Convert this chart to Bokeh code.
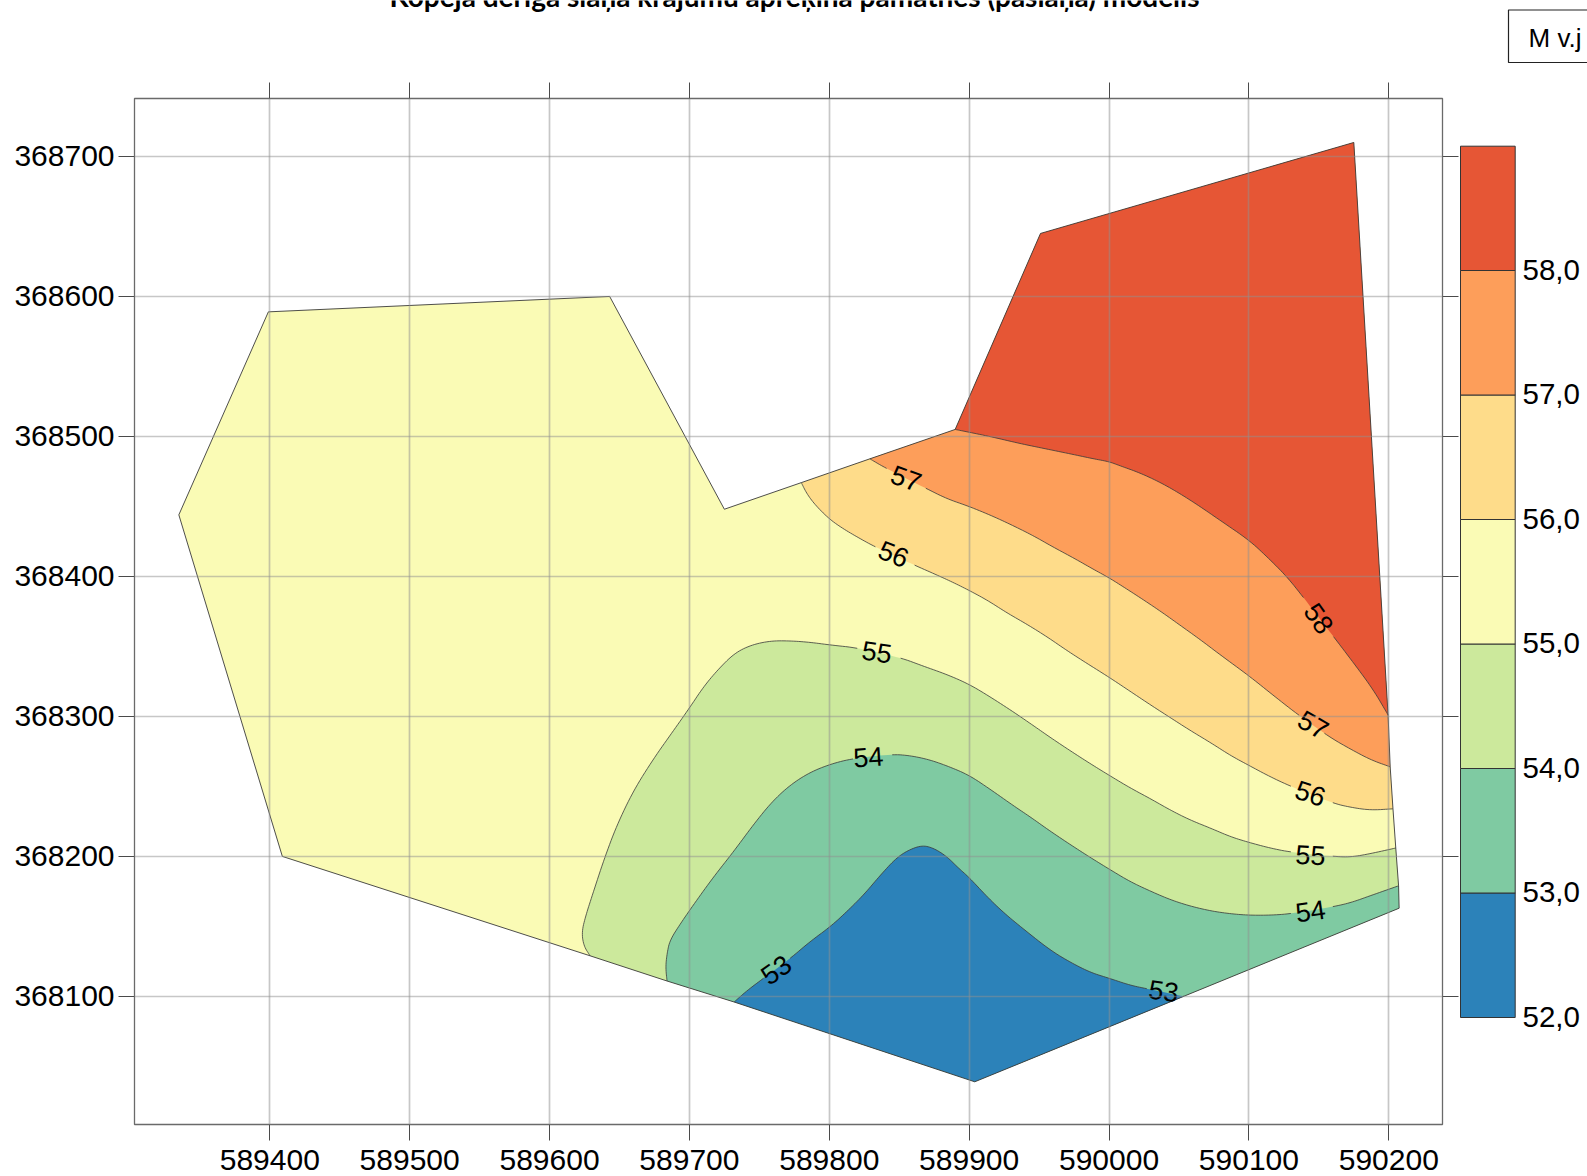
from bokeh.embed import file_html
from bokeh.resources import INLINE
from bokeh.plotting import figure
from bokeh.layouts import row, column
from bokeh.models import LinearAxis, FixedTicker, Range1d
from bokeh.core.properties import value
import numpy as np

x_ticks = [589400, 589500, 589600, 589700, 589800, 589900, 590000, 590100, 590200]
y_ticks = [368100, 368200, 368300, 368400, 368500, 368600, 368700]
title_text = "Kopējā derīgā slāņa krājumu aprēķina pamatnes (pasiāņa) modelis"
unit_text = "M v.j"

# outline vertices (x, y)
west_x = [589629, 589409, 589335, 589399, 589643, 589725, 589780]
west_y = [368129, 368200, 368444, 368589, 368600, 368448, 368467]
east_edge_x = [590199.5, 590175, 589951, 589890]
east_edge_y = [368301, 368710, 368645, 368505]
p57_x, p57_y = 589829, 368484
side_x = [590205, 590207, 590207.4]
side_y = [368206, 368179, 368163]
side56_x, side56_y = 590203, 368234
side57_x, side57_y = 590201, 368264
south_x = [589904, 589732, 589684]
south_y = [368039, 368096, 368111]

c55_x = [589629, 589624.5, 589623, 589626, 589630.5, 589639, 589648, 589660, 589674.5, 589688, 589700, 589710, 589720, 589732, 589744, 589758, 589772, 589786, 589801, 589820, 589851, 589867, 589884, 589900, 589915, 589932, 589948, 589958, 589973, 589987, 590000, 590015, 590030, 590044, 590058, 590073, 590087, 590100, 590115, 590130, 590160, 590173, 590187, 590205]
c55_y = [368129, 368136, 368146, 368158, 368172, 368198, 368222, 368247, 368270, 368289, 368306, 368321, 368333, 368345, 368351, 368354, 368354, 368353, 368351, 368349, 368342, 368336, 368330, 368323, 368314, 368303, 368292, 368285, 368275, 368266, 368258, 368249, 368241, 368233, 368226, 368220, 368214, 368210, 368206, 368203, 368200, 368199.5, 368202, 368206]
c54_x = [589684, 589683, 589684, 589686, 589693.6, 589704, 589717, 589732, 589746, 589759, 589772, 589786, 589801, 589817, 589845, 589858, 589872, 589886, 589900, 589915, 589932, 589944, 589958, 589973, 589987, 590000, 590015, 590030, 590044, 590058, 590073, 590087, 590100, 590115, 590130, 590160, 590173, 590187, 590207]
c54_y = [368111, 368121, 368130.5, 368140, 368152, 368167, 368185, 368204, 368223, 368239, 368251, 368260, 368266, 368270, 368273, 368272, 368269, 368264, 368258, 368248, 368236, 368228, 368218, 368208, 368199, 368191, 368182, 368175, 368169, 368164.5, 368161, 368159, 368158, 368158, 368159, 368164, 368167, 368172, 368179]
c53_x = [589732, 589741, 589753, 589772, 589786, 589801, 589813, 589825, 589836, 589847, 589855.5, 589866, 589874.5, 589884, 589892, 589900, 589913, 589925, 589939, 589958, 589973, 589987, 590000, 590015, 590027, 590053.6]
c53_y = [368096, 368104, 368113, 368127, 368139, 368150, 368161, 368173, 368186, 368198, 368204, 368208, 368206, 368200, 368192, 368185, 368171, 368159.5, 368148, 368133, 368124, 368117, 368113, 368108, 368105.5, 368100]
c56_x = [589780, 589784, 589790, 589800, 589810, 589822, 589833, 589861, 589877, 589889, 589900, 589913, 589927, 589941, 589955.5, 589970, 589984, 590000, 590015, 590030, 590044, 590058, 590073, 590087, 590100, 590115, 590130, 590160, 590173, 590187, 590203]
c56_y = [368467, 368459, 368451, 368441, 368434, 368427, 368421, 368408, 368401, 368395.5, 368390, 368383, 368374, 368366, 368357, 368347, 368338, 368328, 368318, 368308, 368299, 368290, 368281, 368272, 368265, 368257, 368250, 368238, 368235, 368233, 368234]
c57_x = [589829, 589841, 589869, 589884, 589900, 589917, 589932, 589946, 589960, 589975, 589989, 590000, 590008, 590022, 590037, 590051, 590065, 590079.5, 590100, 590115, 590134, 590158, 590172, 590187, 590201]
c57_y = [368484, 368477, 368463, 368455.5, 368450, 368443, 368436, 368429, 368421, 368413, 368405, 368399, 368394, 368385, 368375, 368365, 368355, 368344, 368329, 368317, 368302, 368285, 368277, 368269, 368264]
c58_x = [589890, 589900, 589917, 589936, 589955.5, 589975, 589989, 590000, 590008, 590022, 590037, 590051, 590065, 590079.5, 590100, 590113, 590127, 590139, 590160.5, 590175, 590189, 590199.5]
c58_y = [368505, 368503, 368499.5, 368495, 368491, 368487, 368484, 368482, 368479, 368474, 368467, 368459, 368450, 368440, 368426, 368414, 368400, 368385, 368357, 368338, 368319, 368301]

label_text = ["57", "56", "55", "54", "53", "53", "58", "57", "56", "55", "54"]
label_x = [589855, 589846, 589834, 589828, 589762, 590039, 590150, 590146, 590144, 590144, 590144]
label_y = [368470, 368416, 368346, 368271, 368119, 368104, 368370, 368294, 368245, 368201, 368161]
label_deg = [-20, -22, -8, 4, 35, -8, -55, -30, -18, -3, 8]

levels = [52, 53, 54, 55, 56, 57, 58, 59]
level_labels = ["52,0", "53,0", "54,0", "55,0", "56,0", "57,0", "58,0"]
band_colors = ["#2C82B9", "#7FCAA2", "#CCE99C", "#FAFBB5", "#FEDC8A", "#FD9E5A", "#E65635"]

X0, X1 = 589303.3, 590238.4
Y0, Y1 = 368008.5, 368741.4
LINE = "#3a3a3a"
HEAD = 64  # height of the strip with the title and the unit box


def rounded(xs, ys, passes=3):
    """Draw a read contour as a smooth curve: corner cutting, end points kept."""
    a = np.column_stack([xs, ys]).astype(float)
    for _ in range(passes):
        q1 = 0.75 * a[:-1] + 0.25 * a[1:]
        q2 = 0.25 * a[:-1] + 0.75 * a[1:]
        mid = np.empty((2 * len(q1), 2))
        mid[0::2] = q1
        mid[1::2] = q2
        a = np.vstack([a[:1], mid, a[-1:]])
    return a[:, 0].tolist(), a[:, 1].tolist()


s53_x, s53_y = rounded(c53_x, c53_y)
s54_x, s54_y = rounded(c54_x, c54_y)
s55_x, s55_y = rounded(c55_x, c55_y)
s56_x, s56_y = rounded(c56_x, c56_y)
s57_x, s57_y = rounded(c57_x, c57_y)
s58_x, s58_y = rounded(c58_x, c58_y)

p = figure(width=1459, height=1176 - HEAD, output_backend="svg", toolbar_location=None,
           x_range=Range1d(X0, X1), y_range=Range1d(Y0, Y1),
           min_border_left=134, min_border_top=98 - HEAD, min_border_right=17, min_border_bottom=52)
p.outline_line_color = "#6a6a6a"
p.outline_line_width = 1.3
p.background_fill_color = "white"


def style(ax, ticks, show):
    ax.ticker = FixedTicker(ticks=ticks)
    ax.major_tick_out = 16
    ax.major_tick_in = 0
    ax.major_tick_line_color = "#4a4a4a"
    ax.major_tick_line_width = 1
    ax.minor_tick_line_color = None
    ax.axis_line_color = None
    ax.major_label_standoff = 4 if show else 0
    ax.major_label_text_font = "Liberation Sans"
    ax.major_label_text_color = "black"
    ax.major_label_text_font_size = "30px" if show else "0px"
    ax.major_label_overrides = {t: (str(t) if show else "") for t in ticks}


style(p.xaxis[0], x_ticks, True)
style(p.yaxis[0], y_ticks, True)
p.xaxis[0].major_label_standoff = 9
p.yaxis[0].major_label_orientation = "horizontal"
top_ax = LinearAxis()
right_ax = LinearAxis()
p.add_layout(top_ax, "above")
p.add_layout(right_ax, "right")
style(top_ax, x_ticks, False)
style(right_ax, y_ticks, False)

for g, t in ((p.xgrid[0], x_ticks), (p.ygrid[0], y_ticks)):
    g.ticker = FixedTicker(ticks=t)
    g.grid_line_color = "#909090"
    g.grid_line_alpha = 0.5
    g.grid_line_width = 1.7
    g.level = "overlay"

full_x = west_x + [p57_x] + east_edge_x[::-1] + [side57_x, side56_x] + side_x + south_x
full_y = west_y + [p57_y] + east_edge_y[::-1] + [side57_y, side56_y] + side_y + south_y
p.patch(full_x, full_y, fill_color=band_colors[3], line_color=None)

regions = [
    (s55_x + side_x[1:] + south_x, s55_y + side_y[1:] + south_y, band_colors[2]),
    (s54_x + side_x[2:] + south_x, s54_y + side_y[2:] + south_y, band_colors[1]),
    (s53_x + south_x[:2], s53_y + south_y[:2], band_colors[0]),
    (s56_x + [side57_x] + east_edge_x + [p57_x], s56_y + [side57_y] + east_edge_y + [p57_y], band_colors[4]),
    (s57_x + east_edge_x, s57_y + east_edge_y, band_colors[5]),
    (s58_x + east_edge_x[1:], s58_y + east_edge_y[1:], band_colors[6]),
]
for rx, ry, col in regions:
    p.patch(rx, ry, fill_color=col, line_color=None)

# outline again over the fills
p.line(full_x + full_x[:1], full_y + full_y[:1], line_color=LINE, line_width=0.9)


def with_gaps(xs, ys, gaps):
    ox, oy = [xs[0]], [ys[0]]
    for x0, y0, x1, y1 in zip(xs[:-1], ys[:-1], xs[1:], ys[1:]):
        for a0, b0 in gaps:
            if x1 > x0 and x0 < b0 and x1 > a0:
                a, b = max(a0, x0), min(b0, x1)
                ya = y0 + (y1 - y0) * (a - x0) / (x1 - x0)
                yb = y0 + (y1 - y0) * (b - x0) / (x1 - x0)
                ox += [a, np.nan, b]
                oy += [ya, np.nan, yb]
        ox.append(x1)
        oy.append(y1)
    return ox, oy


contours = [
    (s53_x, s53_y, [(589753, 589772), (590027, 590053)]),
    (s54_x, s54_y, [(589817, 589845), (590130, 590160)]),
    (s55_x, s55_y, [(589820, 589851), (590130, 590160)]),
    (s56_x, s56_y, [(589833, 589861), (590130, 590160)]),
    (s57_x, s57_y, [(589841, 589869), (590136, 590154)]),
    (s58_x, s58_y, [(590139, 590160.5)]),
]
for cx, cy, gaps in contours:
    gx, gy = with_gaps(cx, cy, gaps)
    p.line(gx, gy, line_color=LINE, line_width=0.8)

p.text(label_x, label_y, text=label_text, angle=np.deg2rad(label_deg).tolist(),
       text_align="center", text_baseline="middle", text_color="black",
       text_font=value("Liberation Sans"), text_font_size="27px")

# colour scale panel; its frame lines up with the main frame (98 to 1124 px)
PX = 124.5
q = figure(width=128, height=1176 - HEAD, output_backend="svg", toolbar_location=None,
           x_range=Range1d(0, 128), y_range=Range1d(52 - (1124 - 1017) / PX, 52 + (1017 - 98) / PX),
           min_border_left=0, min_border_right=0, min_border_top=98 - HEAD, min_border_bottom=52)
q.xaxis.visible = False
q.yaxis.visible = False
q.grid.visible = False
q.outline_line_color = None
q.quad(left=1, right=55.7, bottom=levels[:-1], top=[l + 1 for l in levels[:-2]] + [52 + (1017 - 145.7) / PX],
       fill_color=band_colors, line_color="#333333", line_width=1)
q.text(x=[63] * len(level_labels), y=levels[:-1], text=level_labels, text_align="left", text_baseline="middle",
       y_offset=-1, text_color="black", text_font=value("Liberation Sans"), text_font_size="29.5px")

# strip on top: page pixels, y running downwards
h = figure(width=1587, height=HEAD, output_backend="svg", toolbar_location=None,
           x_range=Range1d(0, 1587), y_range=Range1d(HEAD, 0),
           x_axis_type=None, y_axis_type=None,
           min_border_left=0, min_border_right=0, min_border_top=0, min_border_bottom=0)
h.grid.visible = False
h.outline_line_color = None
h.text([794], [-5], text=[title_text], text_align="center", text_baseline="alphabetic",
       text_color="black", text_font=value("Lato"), text_font_style="bold", text_font_size="28px")
h.line([1600, 1508, 1508, 1600], [9.5, 9.5, 62, 62], line_color="#222222", line_width=1.2)
h.text([1528], [37], text=[unit_text], text_align="left", text_baseline="middle",
       text_color="black", text_font=value("Liberation Sans"), text_font_size="26px")

page = column(h, row(p, q, spacing=0), spacing=0)
open("out.html", "w").write(file_html(page, INLINE))
